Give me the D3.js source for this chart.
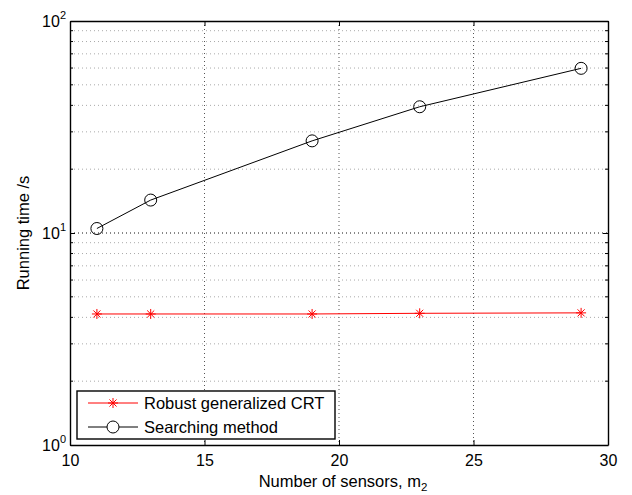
<!DOCTYPE html>
<html>
<head>
<meta charset="utf-8">
<style>
  body { margin: 0; background: #fff; }
  svg text { font-family: "Liberation Sans", Arial, sans-serif; fill: #000; }
</style>
</head>
<body>
<svg id="chart" width="632" height="495"></svg>
<script src="https://d3js.org/d3.v7.min.js"></script>
<script>
// data
const sensors = [11, 13, 19, 23, 29]
const robustCRT = [4.15, 4.15, 4.15, 4.18, 4.2]
const searching = [10.5, 14.3, 27.2, 39.4, 59.8]
const xTicks = [10, 15, 20, 25, 30]
const yDecades = [1, 10, 100]

const margin = {top: 21, right: 24, bottom: 50, left: 70}
const width = 632 - margin.left - margin.right
const height = 495 - margin.top - margin.bottom

const x = d3.scaleLinear().domain([10, 30]).range([0, width])
const y = d3.scaleLog().domain([1, 100]).range([height, 0])

const svg = d3.select("#chart")
const g = svg.append("g").attr("transform", "translate(" + margin.left + "," + margin.top + ")")

// minor y values (2..9 of each decade)
let minor = []
yDecades.slice(0, -1).forEach(function(d) {
  for (let k = 2; k <= 9; k++) minor.push(d * k)
})

// dotted grid
g.selectAll(".ygrid-minor").data(minor).enter().append("line")
  .attr("x1", 0).attr("x2", width)
  .attr("y1", d => y(d)).attr("y2", d => y(d))
  .attr("stroke", "#aaa").attr("stroke-width", 1).attr("stroke-dasharray", "1,3")
g.selectAll(".ygrid-major").data(yDecades.slice(1, -1)).enter().append("line")
  .attr("x1", 0).attr("x2", width)
  .attr("y1", d => y(d)).attr("y2", d => y(d))
  .attr("stroke", "#111").attr("stroke-width", 1).attr("stroke-dasharray", "1,3")
g.selectAll(".xgrid").data(xTicks.slice(1, -1)).enter().append("line")
  .attr("x1", d => x(d)).attr("x2", d => x(d))
  .attr("y1", 0).attr("y2", height)
  .attr("stroke", "#555").attr("stroke-width", 1).attr("stroke-dasharray", "1,3")

// axes with inward ticks
const xb = g.append("g").attr("transform", "translate(0," + height + ")")
  .call(d3.axisBottom(x).tickValues(xTicks).tickSizeInner(-5).tickSizeOuter(0).tickPadding(10).tickFormat(d3.format("d")))
const xt = g.append("g")
  .call(d3.axisTop(x).tickValues(xTicks).tickSizeInner(-5).tickSizeOuter(0).tickFormat(""))
const yl = g.append("g")
  .call(d3.axisLeft(y).tickValues(yDecades).tickSizeInner(-5).tickSizeOuter(0).tickFormat(""))
const yr = g.append("g").attr("transform", "translate(" + width + ",0)")
  .call(d3.axisRight(y).tickValues(yDecades).tickSizeInner(-5).tickSizeOuter(0).tickFormat(""))
;[yl, yr].forEach(function(a, i) {
  a.selectAll(".minor").data(minor).enter().append("line")
    .attr("x1", 0).attr("x2", i == 0 ? 3 : -3)
    .attr("y1", d => y(d)).attr("y2", d => y(d))
    .attr("stroke", "#000")
})
;[xb, xt, yl, yr].forEach(a => a.select(".domain").attr("stroke", "#000").attr("stroke-width", 1.4))
xb.selectAll("text").attr("font-size", 16).attr("font-family", "Liberation Sans, Arial, sans-serif")

// y tick labels as 10^n
yDecades.forEach(function(d) {
  const t = g.append("text").attr("x", -4).attr("y", y(d) + 6)
    .attr("text-anchor", "end").attr("font-size", 16)
  t.append("tspan").text("10")
  t.append("tspan").attr("dy", -8).attr("font-size", 11).text(Math.round(Math.log10(d)))
})

// lines
const line = d3.line().x(d => x(d[0])).y(d => y(d[1]))
const redData = sensors.map((s, i) => [s, robustCRT[i]])
const blackData = sensors.map((s, i) => [s, searching[i]])

g.append("path").datum(redData).attr("d", line)
  .attr("fill", "none").attr("stroke", "#ff0000").attr("stroke-width", 1)
g.append("path").datum(blackData).attr("d", line)
  .attr("fill", "none").attr("stroke", "#000").attr("stroke-width", 1)

function star(sel, cx, cy) {
  const r = 5
  const s = sel.append("g").attr("transform", "translate(" + cx + "," + cy + ")")
  ;[0, 45, 90, 135].forEach(function(a) {
    const rad = a * Math.PI / 180
    s.append("line")
      .attr("x1", -r * Math.cos(rad)).attr("y1", -r * Math.sin(rad))
      .attr("x2", r * Math.cos(rad)).attr("y2", r * Math.sin(rad))
      .attr("stroke", "#ff0000").attr("stroke-width", 1)
  })
}
redData.forEach(d => star(g, x(d[0]), y(d[1])))
g.selectAll(".circ").data(blackData).enter().append("circle")
  .attr("cx", d => x(d[0])).attr("cy", d => y(d[1])).attr("r", 6)
  .attr("fill", "none").attr("stroke", "#000").attr("stroke-width", 1)

// legend
const lg = g.append("g").attr("transform", "translate(7," + (height - 54) + ")")
lg.append("rect").attr("width", 258).attr("height", 48)
  .attr("fill", "#fff").attr("stroke", "#000").attr("stroke-width", 1.4)
const items = [{name: "Robust generalized CRT", color: "#ff0000", mark: "star"},
               {name: "Searching method", color: "#000", mark: "circle"}]
items.forEach(function(it, i) {
  const yy = 12 + i * 24
  lg.append("line").attr("x1", 11).attr("x2", 61).attr("y1", yy).attr("y2", yy)
    .attr("stroke", it.color).attr("stroke-width", 1)
  if (it.mark == "star") star(lg, 36, yy)
  else lg.append("circle").attr("cx", 36).attr("cy", yy).attr("r", 6)
    .attr("fill", "#fff").attr("stroke", "#000")
  lg.append("text").attr("x", 67).attr("y", yy + 6).attr("font-size", 16.5).text(it.name)
})

// axis labels
svg.append("text")
  .attr("transform", "translate(29," + (margin.top + height / 2) + ") rotate(-90)")
  .attr("text-anchor", "middle").attr("font-size", 16.5).text("Running time /s")
const xl = svg.append("text").attr("x", margin.left + width / 2 + 4).attr("y", 487)
  .attr("text-anchor", "middle").attr("font-size", 16.5)
xl.append("tspan").text("Number of sensors, m")
xl.append("tspan").attr("dy", 4).attr("font-size", 11.5).text("2")
</script>
</body>
</html>
